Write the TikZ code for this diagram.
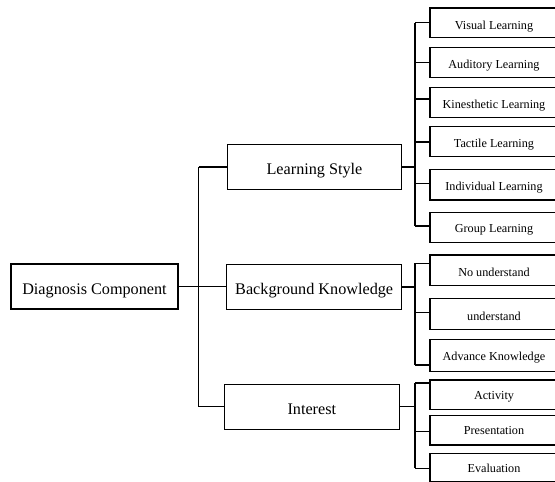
\documentclass[tikz,border=0pt]{standalone}
\usepackage{fontspec}
\setmainfont{Liberation Serif}
\begin{document}
\begin{tikzpicture}[x=1pt,y=-1pt,line width=1.1pt,
  mainbox/.style={draw,rectangle,inner sep=0pt,text height=15pt,text depth=0pt,font=\fontsize{16.2}{19}\selectfont},
  leafbox/.style={draw,rectangle,inner sep=0pt,minimum width=128pt,minimum height=30pt,text height=11.6pt,text depth=0pt,font=\fontsize{12.2}{14}\selectfont},
  conn/.style={line width=1.1pt}]
\useasboundingbox (0,0) rectangle (555,482);
\clip (0,0) rectangle (555,482);
% main boxes
\node[mainbox,minimum width=167pt,minimum height=45pt] (diag) at (94.5,286.5) {Diagnosis Component};
\node[mainbox,minimum width=174.4pt,minimum height=45pt] (ls) at (314.5,166.8) {Learning Style};
\node[mainbox,minimum width=175pt,minimum height=45pt] (bk) at (314.2,286.8) {Background Knowledge};
\node[mainbox,minimum width=175pt,minimum height=44.7pt] (int) at (311.8,406.7) {Interest};
% leaves
\node[leafbox,minimum height=29.7pt,text height=12.6pt] (l1) at (494,22.85) {Visual Learning};
\node[leafbox,text height=12pt] (l2) at (494,62.3) {Auditory Learning};
\node[leafbox,text height=12pt] (l3) at (494,102.3) {Kinesthetic Learning};
\node[leafbox,text height=11.2pt] (l4) at (494,141.7) {Tactile Learning};
\node[leafbox,minimum height=30.7pt,text height=10.8pt] (l5) at (494,184.65) {Individual Learning};
\node[leafbox,text height=10.8pt] (l6) at (494,227.3) {Group Learning};
\node[leafbox,minimum height=30.7pt,text height=12.4pt] (b1) at (494,270.35) {No understand};
\node[leafbox,minimum height=31pt,text height=12.4pt] (b2) at (494,313.8) {understand};
\node[leafbox,minimum height=32.4pt,text height=9pt] (b3) at (494,355.5) {Advance Knowledge};
\node[leafbox,minimum height=29.3pt,text height=10pt] (i1) at (494,394.65) {Activity};
\node[leafbox,minimum height=29.3pt,text height=9.2pt] (i2) at (494,430.35) {Presentation};
\node[leafbox,minimum height=28.4pt,text height=9.6pt] (i3) at (494,467.5) {Evaluation};
% trunk coordinates
\coordinate (t0) at (198.5,167);
\coordinate (t1) at (198.5,406.5);
\coordinate (d0) at (198.5,286.5);
\coordinate (s1) at (415,22.7);
\coordinate (s2) at (415,62.3);
\coordinate (s3) at (415,99);
\coordinate (s4) at (415,142);
\coordinate (s5) at (415,183.3);
\coordinate (s6) at (415,226);
\coordinate (sin) at (415,167);
\coordinate (k1) at (415,263.3);
\coordinate (k2) at (415,312.3);
\coordinate (k3) at (415,365);
\coordinate (kin) at (415,287);
\coordinate (n1) at (415,383);
\coordinate (n2) at (415,431.7);
\coordinate (n3) at (415,468.3);
\coordinate (nin) at (415,406.5);
% level 1
\draw[conn] (t0) -- (t1);
\draw[conn] (diag.east |- d0) -- (bk.west |- d0);
\draw[conn] (t0) -- (ls.west |- t0);
\draw[conn] (t1) -- (int.west |- t1);
% learning style
\draw[conn] (s1) -- (s6);
\draw[conn] (ls.east |- sin) -- (sin);
\foreach \c/\n in {s1/l1,s2/l2,s3/l3,s4/l4,s5/l5,s6/l6}
  \draw[conn] (\c) -- (\n.west |- \c);
% background
\draw[conn] (k1) -- (k3);
\draw[conn] (bk.east |- kin) -- (kin);
\foreach \c/\n in {k1/b1,k2/b2,k3/b3}
  \draw[conn] (\c) -- (\n.west |- \c);
% interest
\draw[conn] (n1) -- (n3);
\draw[conn] (int.east |- nin) -- (nin);
\foreach \c/\n in {n1/i1,n2/i2,n3/i3}
  \draw[conn] (\c) -- (\n.west |- \c);
\end{tikzpicture}
\end{document}
